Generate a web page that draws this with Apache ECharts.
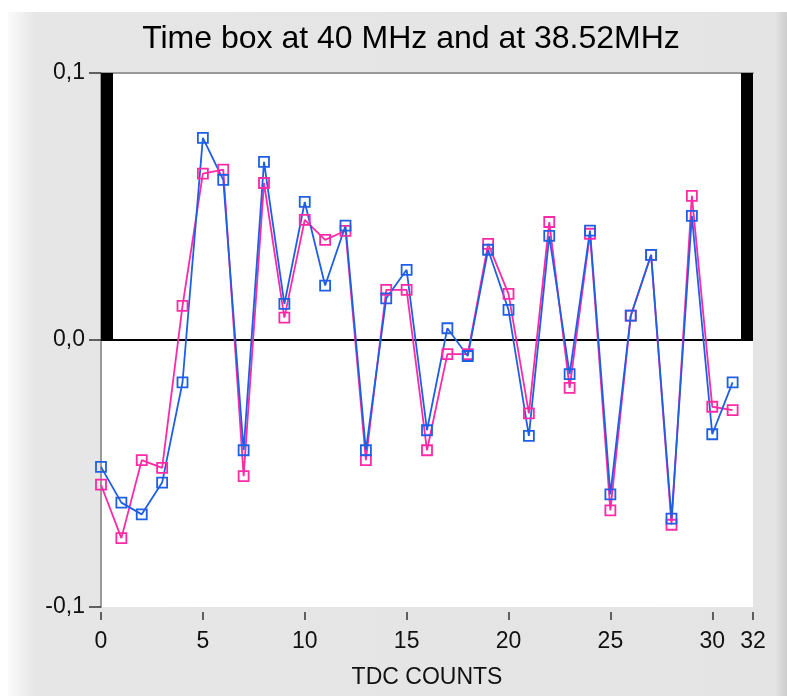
<!DOCTYPE html>
<html>
<head>
<meta charset="utf-8">
<script src="https://cdn.jsdelivr.net/npm/echarts@6/dist/echarts.min.js"></script>
<style>
  html, body { margin: 0; padding: 0; background: #fff; }
  #chart { width: 787px; height: 696px; }
</style>
</head>
<body>
<div id="chart"></div>
<script>
// TDC counts 0..31
const counts = [0, 1, 2, 3, 4, 5, 6, 7, 8, 9, 10, 11, 12, 13, 14, 15,
  16, 17, 18, 19, 20, 21, 22, 23, 24, 25, 26, 27, 28, 29, 30, 31]

// 40 MHz (blue)
const at40 = [-0.0475, -0.0609, -0.0653, -0.0534, -0.0159, 0.0757, 0.0600, -0.0413,
  0.0667, 0.0135, 0.0517, 0.0204, 0.0428, -0.0413, 0.0156, 0.0263,
  -0.0338, 0.0044, -0.0060, 0.0338, 0.0113, -0.0359, 0.0390, -0.0128,
  0.0410, -0.0578, 0.0091, 0.0319, -0.0669, 0.0465, -0.0353, -0.0159]

// 38.52 MHz (pink)
const at3852 = [-0.0542, -0.0742, -0.0450, -0.0479, 0.0128, 0.0623, 0.0638, -0.0510,
  0.0588, 0.0084, 0.0450, 0.0375, 0.0409, -0.0450, 0.0188, 0.0188,
  -0.0413, -0.0053, -0.0053, 0.0360, 0.0173, -0.0275, 0.0442, -0.0179,
  0.0398, -0.0638, 0.0091, 0.0319, -0.0692, 0.0540, -0.0250, -0.0263]

// the time box: edges at 0 and 32 (x, bottom, top), base line at 0
const boxEdges = [[0, 0, 0.1], [32, 0, 0.1]]
const boxBase = [[0, 0], [32, 0]]

const xTicks = [0, 5, 10, 15, 20, 25, 30, 32]

const font = 'Liberation Sans'

let myChart = echarts.init(document.getElementById('chart'))

const pts = (ys) => counts.map((x, i) => [x, ys[i]])

const dataSeries = (name, ys, color) => ({
  name,
  type: 'line',
  data: pts(ys),
  symbol: 'rect',
  symbolSize: 10,
  lineStyle: { color, width: 1.8 },
  itemStyle: { color: 'rgba(0,0,0,0)', borderColor: color, borderWidth: 1.8 },
  animation: false,
  z: 5
})

// thick edges of the box, cut by the plot area like in the original
function renderEdge(params, api) {
  const lo = api.coord([api.value(0), api.value(1)])
  const hi = api.coord([api.value(0), api.value(2)])
  const half = 12
  const rect = echarts.graphic.clipRectByRect(
    { x: lo[0] - half, y: hi[1], width: half * 2, height: lo[1] - hi[1] },
    { x: params.coordSys.x, y: params.coordSys.y, width: params.coordSys.width, height: params.coordSys.height }
  )
  return rect && { type: 'rect', shape: rect, style: { fill: '#000' } }
}

myChart.setOption({
  backgroundColor: '#fff',
  animation: false,
  title: {
    text: 'Time box at 40 MHz and at 38.52MHz',
    left: 406,
    top: 18,
    textAlign: 'center',
    textStyle: { fontFamily: font, fontSize: 32, fontWeight: 'normal', color: '#000' }
  },
  graphic: [{
    type: 'rect',
    shape: { x: 8, y: 12, width: 779, height: 684 },
    style: {
      fill: new echarts.graphic.LinearGradient(0, 0, 1, 0, [
        { offset: 0, color: '#fbfbfb' },
        { offset: 0.035, color: '#e6e6e6' },
        { offset: 0.984, color: '#e4e4e4' },
        { offset: 1, color: '#cdcdcd' }
      ])
    },
    z: -10,
    silent: true
  }],
  grid: {
    left: 101, right: 34, top: 73, bottom: 89,
    show: true, backgroundColor: '#fff', borderWidth: 0
  },
  xAxis: [{
    type: 'value',
    min: 0, max: 32,
    offset: 5,
    name: 'TDC COUNTS',
    nameLocation: 'middle',
    nameGap: 54,
    nameTextStyle: { fontFamily: font, fontSize: 23, color: '#111' },
    axisLine: { show: false, onZero: false },
    axisTick: { show: true, length: 8, customValues: xTicks, lineStyle: { color: '#333', width: 1.5 } },
    axisLabel: { customValues: xTicks, margin: 18, fontFamily: font, fontSize: 23, color: '#111' },
    splitLine: { show: false }
  }, {
    type: 'value',
    position: 'top',
    min: 0, max: 32,
    axisLine: { show: true, onZero: false, lineStyle: { color: '#9a9a9a', width: 2 } },
    axisTick: { show: false },
    axisLabel: { show: false },
    splitLine: { show: false }
  }],
  yAxis: {
    type: 'value',
    min: -0.1, max: 0.1, interval: 0.1,
    axisLine: { show: true, onZero: false, lineStyle: { color: '#9a9a9a', width: 2 } },
    axisTick: { show: true, length: 12, lineStyle: { color: '#333', width: 1.5 } },
    axisLabel: {
      margin: 16,
      fontFamily: font, fontSize: 23, color: '#111',
      formatter: v => v.toFixed(1).replace('.', ',')
    },
    splitLine: { show: false }
  },
  series: [
    {
      type: 'custom',
      data: boxEdges,
      renderItem: renderEdge,
      silent: true,
      animation: false,
      z: 3
    },
    {
      type: 'line',
      data: boxBase,
      symbol: 'none',
      lineStyle: { color: '#000', width: 2 },
      silent: true,
      animation: false,
      z: 3
    },
    dataSeries('38.52 MHz', at3852, '#ff2aa6'),
    dataSeries('40 MHz', at40, '#1f5fe6')
  ]
})

window.onresize = function() {
  myChart.resize()
}
</script>
</body>
</html>
